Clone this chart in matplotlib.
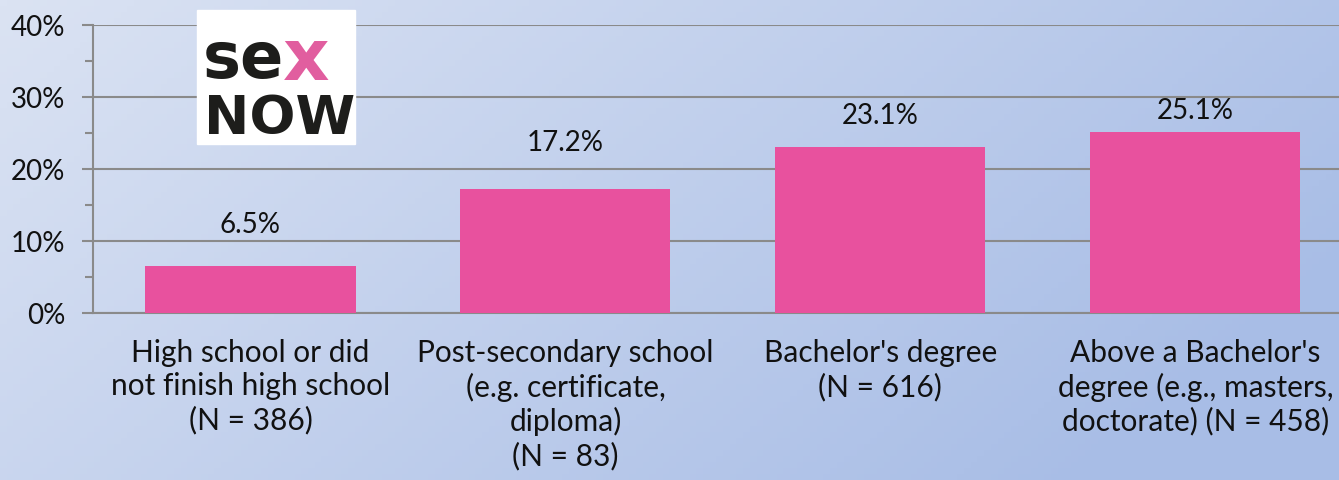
import numpy as np
import matplotlib
matplotlib.use('Agg')
from matplotlib import pyplot as plt
from matplotlib.patches import Rectangle
from matplotlib.ticker import MultipleLocator, PercentFormatter

plt.rcParams['font.family'] = ['Lato', 'DejaVu Sans']

categories = ['High school or did\nnot finish high school\n(N = 386)',
              'Post-secondary school\n(e.g. certificate,\ndiploma)\n(N = 83)',
              "Bachelor's degree\n(N = 616)",
              "Above a Bachelor's\ndegree (e.g., masters,\ndoctorate) (N = 458)"]
values = [6.5, 17.2, 23.1, 25.1]
label_gap_px = [28, 33, 18, 8]

W, H = 1339, 480
fig = plt.figure(figsize=(W / 100, H / 100), dpi=100)

# gradient background
bg = fig.add_axes([0, 0, 1, 1], zorder=-10)
xx, yy = np.meshgrid(np.linspace(0, 1, 200), np.linspace(0, 1, 80))
t = np.clip(0.8 * xx + 0.35 * yy, 0, 1)
c0 = np.array([219, 227, 243]) / 255
c1 = np.array([168, 189, 230]) / 255
img = c0[None, None, :] * (1 - t[..., None]) + c1[None, None, :] * t[..., None]
bg.imshow(img, aspect='auto', extent=[0, 1, 0, 1], origin='upper')
bg.axis('off')

ax = fig.add_axes([93 / W, 167 / H, 1246 / W, 288 / H])
ax.patch.set_alpha(0)
x = np.arange(len(values))
ax.bar(x, values, width=0.667, color='#E8519E', zorder=3)
ax.set_xlim(-0.5, 3.456)
ax.set_ylim(0, 40)

ax.yaxis.set_major_locator(MultipleLocator(10))
ax.yaxis.set_minor_locator(MultipleLocator(5))
ax.yaxis.set_major_formatter(PercentFormatter(decimals=0))
ax.grid(axis='y', which='major', color='#8a8a8a', linewidth=1.5, zorder=0)
ax.tick_params(axis='y', which='major', length=8, width=1.5, color='#8a8a8a',
               labelsize=20, pad=12, labelcolor='#111111')
ax.tick_params(axis='y', which='minor', length=6, width=1.5, color='#8a8a8a')
ax.tick_params(axis='x', length=0, labelsize=21.5, pad=19, labelcolor='#111111')
ax.set_xticks(x)
ax.set_xticklabels(categories, linespacing=1.22)
for s in ['top', 'right']:
    ax.spines[s].set_visible(False)
for s in ['left', 'bottom']:
    ax.spines[s].set_color('#8a8a8a')
    ax.spines[s].set_linewidth(1.5)

for xi, v, g in zip(x, values, label_gap_px):
    ax.annotate(f'{v:.1f}%', (xi, v), xytext=(0, g * 0.72), textcoords='offset points',
                ha='center', va='bottom', fontsize=20, color='#111111')

# logo
fig.patches.append(Rectangle((197 / W, 1 - 144 / H), 158 / W, 134 / H,
                             transform=fig.transFigure, color='white', zorder=5))
fig.text(203 / W, 1 - 78 / H, 'se', fontsize=46, fontweight='heavy', color='#1d1d1b',
         family='DejaVu Sans', zorder=6, va='baseline')
fig.text(283 / W, 1 - 80 / H, 'x', fontsize=52, fontweight='bold', color='#e0559a',
         family='DejaVu Sans', zorder=7, va='baseline', alpha=0.95)
fig.text(204 / W, 1 - 134 / H, 'NOW', fontsize=39, fontweight='heavy', color='#1d1d1b',
         family='DejaVu Sans', zorder=6, va='baseline')

fig.savefig('out.png', dpi=100)
